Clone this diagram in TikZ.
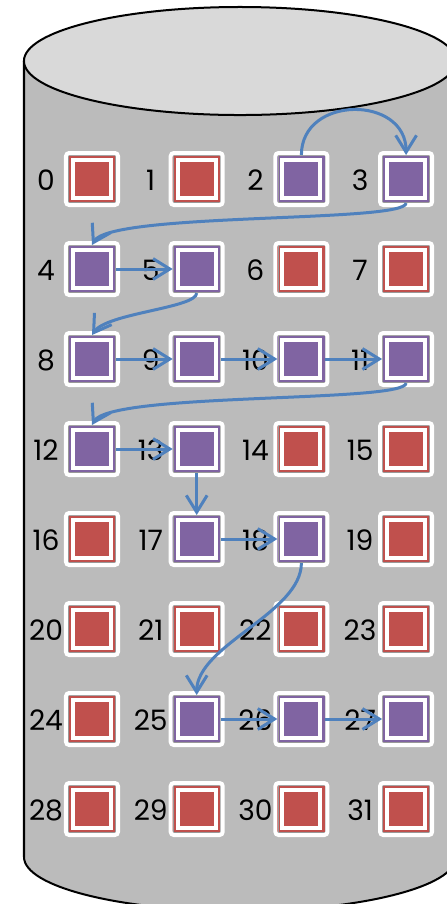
\documentclass[tikz,border=0pt]{standalone}
\usepackage{fontspec}
\setmainfont{Poppins}
\usepackage{tikz}
\usetikzlibrary{arrows.meta}
\definecolor{blkred}{HTML}{C0504D}
\definecolor{blkpurple}{HTML}{8064A2}
\definecolor{seekblue}{HTML}{4F81BD}
\definecolor{diskside}{HTML}{BBBBBB}
\definecolor{disktop}{HTML}{D9D9D9}
\tikzset{
  blk/.style={minimum size=1.3cm, inner sep=0pt, outer sep=-0.05cm,
    draw=white, line width=0.1cm, rounded corners=0.08cm,
    path picture={
      \draw[gray!80, line width=0.4pt, sharp corners]
        ([shift={(0.06cm,0.06cm)}]path picture bounding box.south west) rectangle
        ([shift={(-0.06cm,-0.06cm)}]path picture bounding box.north east);
      \draw[white, line width=0.1cm, sharp corners]
        ([shift={(0.175cm,0.175cm)}]path picture bounding box.south west) rectangle
        ([shift={(-0.175cm,-0.175cm)}]path picture bounding box.north east);
    }},
  idx/.style={inner sep=0pt, font=\fontsize{20}{22}\selectfont},
  seek/.style={seekblue, line width=0.075cm, -{Straight Barb[length=0.42cm, width=0.52cm]}}
}

\begin{document}
\begin{tikzpicture}[x=0.025cm, y=-0.025cm]
    \useasboundingbox (0,0) rectangle (447,904);
    \clip (0,0) rectangle (447,904);

    % disk body
    \fill[diskside] (24,61) -- (24,857)
        arc[start angle=180, end angle=360, x radius=5.4cm, y radius=1.35cm]
        -- (456,61) -- cycle;
    \draw[line width=0.05cm] (24,61) -- (24,857)
        arc[start angle=180, end angle=360, x radius=5.4cm, y radius=1.35cm] -- (456,61);
    \draw[line width=0.05cm, fill=disktop] (240,61) ellipse [x radius=5.4cm, y radius=1.35cm];

    % blocks and their numbers
    \foreach \i/\c in {0/blkred,1/blkred,2/blkpurple,3/blkpurple,
                       4/blkpurple,5/blkpurple,6/blkred,7/blkred,
                       8/blkpurple,9/blkpurple,10/blkpurple,11/blkpurple,
                       12/blkpurple,13/blkpurple,14/blkred,15/blkred,
                       16/blkred,17/blkpurple,18/blkpurple,19/blkred,
                       20/blkred,21/blkred,22/blkred,23/blkred,
                       24/blkred,25/blkpurple,26/blkpurple,27/blkpurple,
                       28/blkred,29/blkred,30/blkred,31/blkred} {
        \pgfmathtruncatemacro\row{\i/4}
        \pgfmathtruncatemacro\col{\i-4*\row}
        \node[blk, fill=\c] (n\i) at ({92+104.7*\col},{179+90*\row}) {};
        \node[idx] (t\i) at ({46+104.7*\col},{180+90*\row}) {\i};
    }

    % seeks
    \draw[seek] (n2.north) .. controls +(0,-60) and +(0,-60) .. (n3.north);
    \draw[seek] (n3.south) .. controls +(0,20) and +(18,-33) .. (n4.north);
    \draw[seek] (n4.east) -- (n5.west);
    \draw[seek] (n5.south) .. controls +(0,15) and +(15,-22) .. (n8.north);
    \draw[seek] (n8.east) -- (n9.west);
    \draw[seek] (n9.east) -- (n10.west);
    \draw[seek] (n10.east) -- (n11.west);
    \draw[seek] (n11.south) .. controls +(0,20) and +(18,-33) .. (n12.north);
    \draw[seek] (n12.east) -- (n13.west);
    \draw[seek] (n13.south) -- (n17.north);
    \draw[seek] (n17.east) -- (n18.west);
    \draw[seek] (n18.south) .. controls +(0,50) and +(0,-50) .. (n25.north);
    \draw[seek] (n25.east) -- (n26.west);
    \draw[seek] (n26.east) -- (n27.west);
\end{tikzpicture}
\end{document}
